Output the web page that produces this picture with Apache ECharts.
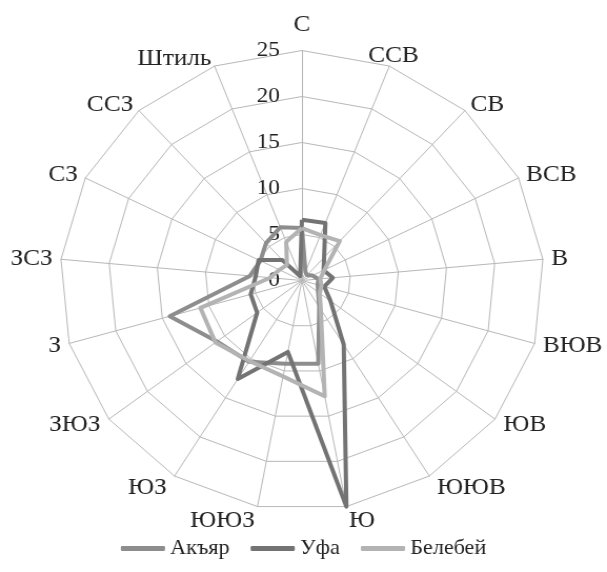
<!DOCTYPE html>
<html>
<head>
<meta charset="utf-8">
<script src="https://cdn.jsdelivr.net/npm/echarts@6/dist/echarts.min.js"></script>
<style>
html,body{margin:0;padding:0;background:#fff;overflow:hidden;}
#wrap{width:577px;height:572px;transform:scaleX(1.052);transform-origin:0 0;}
#chart{width:577px;height:572px;}
</style>
</head>
<body>
<div id="wrap"><div id="chart"></div></div>
<script>
// Directions, clockwise from north
const categories = ['С','ССВ','СВ','ВСВ','В','ВЮВ','ЮВ','ЮЮВ','Ю','ЮЮЗ','ЮЗ','ЗЮЗ','З','ЗСЗ','СЗ','ССЗ','Штиль'];
const akyar    = [5.7, 1.0, 0.8, 1.2, 1.7, 1.7, 2.1, 3.4, 9.2, 9.2, 10.4, 11.0, 14.2, 5.4, 4.8, 5.5, 6.2];
const ufa      = [6.6, 6.7, 3.4, 2.5, 3.2, 2.4, 3.7, 8.2, 25, 7.9, 12.6, 5.8, 5.5, 4.8, 5.0, 3.0, 0.5];
const belebey  = [5.7, 5.3, 5.8, 2.6, 1.9, 2.1, 2.3, 3.7, 12.8, 10.6, 10.3, 11.2, 10.9, 3.3, 2.6, 2.3, 4.5];
const axisMax = 25;
const axisStep = 5;

// label distance from the outer ring, per direction (layout only)
const nameGapFor = { 'С': 14, 'ССВ': 11, 'ЮВ': 10, 'ЮЮВ': 14, 'Ю': 14, 'ЮЮЗ': 14, 'ЮЗ': 14, 'ЗЮЗ': 10 };
const nameAlignFor = { 'ССВ': 'center' };

// ECharts radar places indicators counter-clockwise; reorder to get clockwise
const order = [0];
for (let i = categories.length - 1; i >= 1; i--) order.push(i);
const reorder = arr => order.map(i => arr[i]);

const FONT = '"Liberation Serif", "DejaVu Serif", serif';
const indicator = order.map((i, k) => {
  const c = categories[i];
  const o = { name: c, min: 0, max: axisMax };
  if (k === 0) o.axisLabel = { show: true };
  if (nameGapFor[c] != null) o.nameGap = nameGapFor[c];
  if (nameAlignFor[c]) o.nameTextStyle = { align: nameAlignFor[c] };
  return o;
});

const chart = echarts.init(document.getElementById('chart'), null, { renderer: 'canvas' });
chart.setOption({
  animation: false,
  backgroundColor: '#ffffff',
  legend: {
    bottom: 8,
    left: 'center',
    itemWidth: 42,
    itemHeight: 5,
    itemGap: 20,
    icon: 'roundRect',
    textStyle: { fontFamily: FONT, fontSize: 21, color: '#222' },
    data: ['Акъяр', 'Уфа', 'Белебей']
  },
  radar: {
    center: [287, 280.5],
    radius: 230,
    startAngle: 90,
    splitNumber: axisMax / axisStep,
    shape: 'polygon',
    axisName: { fontFamily: FONT, fontSize: 24, color: '#222' },
    nameGap: 8,
    splitArea: { show: false },
    splitLine: { lineStyle: { color: '#b8b8b8', width: 1 } },
    axisLine: { lineStyle: { color: '#b8b8b8', width: 1 } },
    axisTick: { show: false },
    axisLabel: { show: false, fontFamily: FONT, fontSize: 22, color: '#222', margin: 21 },
    indicator: indicator
  },
  series: [{
    type: 'radar',
    symbol: 'none',
    data: [
      { name: 'Акъяр', value: reorder(akyar), lineStyle: { color: '#8d8d8d', width: 4 }, itemStyle: { color: '#8d8d8d' } },
      { name: 'Уфа', value: reorder(ufa), lineStyle: { color: '#737373', width: 4 }, itemStyle: { color: '#737373' } },
      { name: 'Белебей', value: reorder(belebey), lineStyle: { color: '#b3b3b3', width: 4 }, itemStyle: { color: '#b3b3b3' } }
    ]
  }]
});
</script>
</body>
</html>
